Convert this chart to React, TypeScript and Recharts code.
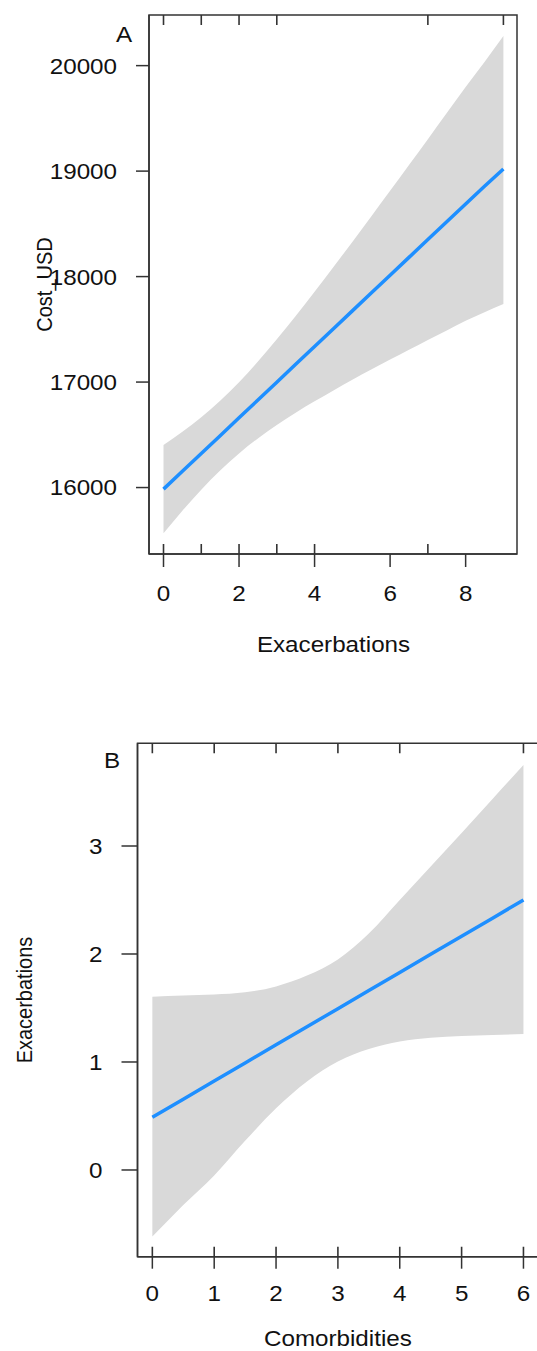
import React from 'react';
import { ComposedChart, Area, Line, XAxis, YAxis, Scatter, ReferenceArea, Label } from 'recharts';

const FONT = '"Liberation Sans", Arial, Helvetica, sans-serif';
const AXIS = '#333333';
const BAND = '#d9d9d9';
const BLUE = '#1e8fff';

// ---------- Panel A: Cost_USD vs Exacerbations ----------
const exacerbationsX = [0, 0.5, 1, 1.5, 2, 2.5, 3, 3.5, 4, 4.5, 5, 5.5, 6, 6.5, 7, 7.5, 8, 8.5, 9];
const costFit = [15985, 16154, 16323, 16492, 16661, 16830, 16999, 17168, 17337, 17506, 17675, 17844, 18013, 18182, 18351, 18520, 18689, 18856, 19020];
const costLow = [15566, 15780, 15980, 16161, 16323, 16466, 16593, 16710, 16818, 16921, 17021, 17118, 17213, 17306, 17399, 17490, 17581, 17662, 17740];
const costHigh = [16404, 16528, 16666, 16823, 16999, 17194, 17405, 17626, 17856, 18091, 18329, 18570, 18813, 19058, 19303, 19550, 19797, 20035, 20280];
const costXTicks = [0, 2, 4, 6, 8];
const costYTicks = [16000, 17000, 18000, 19000, 20000];
const rugBottomA = [0, 1, 2, 3, 4, 7];
const rugTopA = [0, 1, 2, 3, 7, 9];
const xDomA = [-0.384, 9.36];
const yDomA = [15370, 20480];

// ---------- Panel B: Exacerbations vs Comorbidities ----------
const comorbX = [0, 0.5, 1, 1.5, 2, 2.5, 3, 3.5, 4, 4.5, 5, 5.5, 6];
const exFit = [0.488, 0.656, 0.823, 0.991, 1.159, 1.326, 1.494, 1.662, 1.829, 1.997, 2.165, 2.332, 2.5];
const exLow = [-0.617, -0.324, -0.05, 0.27, 0.571, 0.82, 1.005, 1.12, 1.19, 1.225, 1.24, 1.25, 1.26];
const exHigh = [1.605, 1.615, 1.625, 1.645, 1.7, 1.8, 1.95, 2.19, 2.5, 2.81, 3.12, 3.435, 3.75];
const comorbXTicks = [0, 1, 2, 3, 4, 5, 6];
const exYTicks = [0, 1, 2, 3];
const rugBottomB = [0, 1, 2, 3, 4, 5, 6];
const rugTopB = [0, 1, 2, 3, 4, 6];
const xDomB = [-0.24, 6.24];
const yDomB = [-0.803, 3.951];

const dataA = exacerbationsX.map((x, i) => ({ x, fit: costFit[i], band: [costLow[i], costHigh[i]] }));
const dataB = comorbX.map((x, i) => ({ x, fit: exFit[i], band: [exLow[i], exHigh[i]] }));
const rugA1 = rugBottomA.map((x) => ({ x, y: yDomA[0] }));
const rugA2 = rugTopA.map((x) => ({ x, y: yDomA[1] }));
const rugB1 = rugBottomB.map((x) => ({ x, y: yDomB[0] }));
const rugB2 = rugTopB.map((x) => ({ x, y: yDomB[1] }));

const SX = 1.1;

const YTick = (props: any) => {
  const { x, y, payload } = props;
  return (
    <text transform={`translate(${x},${y}) scale(${SX},1)`} textAnchor="end" dy="0.36em"
      fontSize={22} fontFamily={FONT} fill="#111">{payload.value}</text>
  );
};

const XTick = (props: any) => {
  const { x, y, payload } = props;
  return (
    <text transform={`translate(${x},${y}) scale(${SX},1)`} textAnchor="middle" dy={16}
      fontSize={22} fontFamily={FONT} fill="#111">{payload.value}</text>
  );
};

const RugUp = (props: any) => (
  <line x1={props.cx} x2={props.cx} y1={props.cy} y2={props.cy - 10} stroke={AXIS} strokeWidth={1.6} />
);
const RugDown = (props: any) => (
  <line x1={props.cx} x2={props.cx} y1={props.cy} y2={props.cy + 10} stroke={AXIS} strokeWidth={1.6} />
);

const hText = (x: number, y: number, s: string, anchor: string = 'middle') => (
  <text transform={`translate(${x},${y}) scale(${SX},1)`} textAnchor={anchor}
    fontSize={22} fontFamily={FONT} fill="#111">{s}</text>
);
const vText = (x: number, y: number, s: string) => (
  <text transform={`translate(${x},${y}) scale(${SX},1) rotate(-90)`} textAnchor="middle"
    fontSize={20} fontFamily={FONT} fill="#111">{s}</text>
);

const lineStyle = { stroke: AXIS, strokeWidth: 1.5 };

export default function App() {
  return (
    <div style={{ position: 'absolute', left: 0, top: 0, width: 537, height: 1351, overflow: 'hidden', background: '#fff' }}>
      <div style={{ position: 'absolute', left: 0, top: 0 }}>
        <ComposedChart width={537} height={680} data={dataA} margin={{ top: 15, right: 20, bottom: 0, left: 0 }}>
          <XAxis dataKey="x" type="number" domain={xDomA} ticks={costXTicks} allowDataOverflow
            height={126} tickSize={13} tickMargin={18} tick={<XTick />} axisLine={lineStyle} tickLine={lineStyle}>
            <Label content={() => hText(333.5, 651.7, 'Exacerbations')} />
          </XAxis>
          <YAxis type="number" domain={yDomA} ticks={costYTicks} allowDataOverflow
            width={149} tickSize={13} tickMargin={19} tick={<YTick />} axisLine={lineStyle} tickLine={lineStyle}>
            <Label content={() => (
              <g>
                {vText(52, 284.5, 'Cost_USD')}
                {hText(116, 42, 'A', 'start')}
              </g>
            )} />
          </YAxis>
          <Area type="monotone" dataKey="band" stroke="none" fill={BAND} fillOpacity={1} isAnimationActive={false} />
          <Line type="linear" dataKey="fit" stroke={BLUE} strokeWidth={3.5} dot={false} isAnimationActive={false} />
          <Scatter data={rugA1} dataKey="y" shape={<RugUp />} isAnimationActive={false} />
          <Scatter data={rugA2} dataKey="y" shape={<RugDown />} isAnimationActive={false} />
          <ReferenceArea x1={xDomA[0]} x2={xDomA[1]} y1={yDomA[0]} y2={yDomA[1]} fill="none"
            stroke={AXIS} strokeWidth={1.5} ifOverflow="visible" />
        </ComposedChart>
      </div>
      <div style={{ position: 'absolute', left: 0, top: 680 }}>
        <ComposedChart width={545} height={671} data={dataB} margin={{ top: 63.3, right: 6.7, bottom: 0, left: 0 }}>
          <XAxis dataKey="x" type="number" domain={xDomB} ticks={comorbXTicks} allowDataOverflow
            height={94.3} tickSize={12} tickMargin={16} tick={<XTick />} axisLine={lineStyle} tickLine={lineStyle}>
            <Label content={() => hText(337.9, 665.5, 'Comorbidities')} />
          </XAxis>
          <YAxis type="number" domain={yDomB} ticks={exYTicks} allowDataOverflow
            width={137.5} tickSize={16} tickMargin={19} tick={<YTick />} axisLine={lineStyle} tickLine={lineStyle}>
            <Label content={() => (
              <g>
                {vText(32, 320, 'Exacerbations')}
                {hText(104, 88.3, 'B', 'start')}
              </g>
            )} />
          </YAxis>
          <Area type="monotone" dataKey="band" stroke="none" fill={BAND} fillOpacity={1} isAnimationActive={false} />
          <Line type="linear" dataKey="fit" stroke={BLUE} strokeWidth={3.5} dot={false} isAnimationActive={false} />
          <Scatter data={rugB1} dataKey="y" shape={<RugUp />} isAnimationActive={false} />
          <Scatter data={rugB2} dataKey="y" shape={<RugDown />} isAnimationActive={false} />
          <ReferenceArea x1={xDomB[0]} x2={xDomB[1]} y1={yDomB[0]} y2={yDomB[1]} fill="none"
            stroke={AXIS} strokeWidth={1.5} ifOverflow="visible" />
        </ComposedChart>
      </div>
    </div>
  );
}
